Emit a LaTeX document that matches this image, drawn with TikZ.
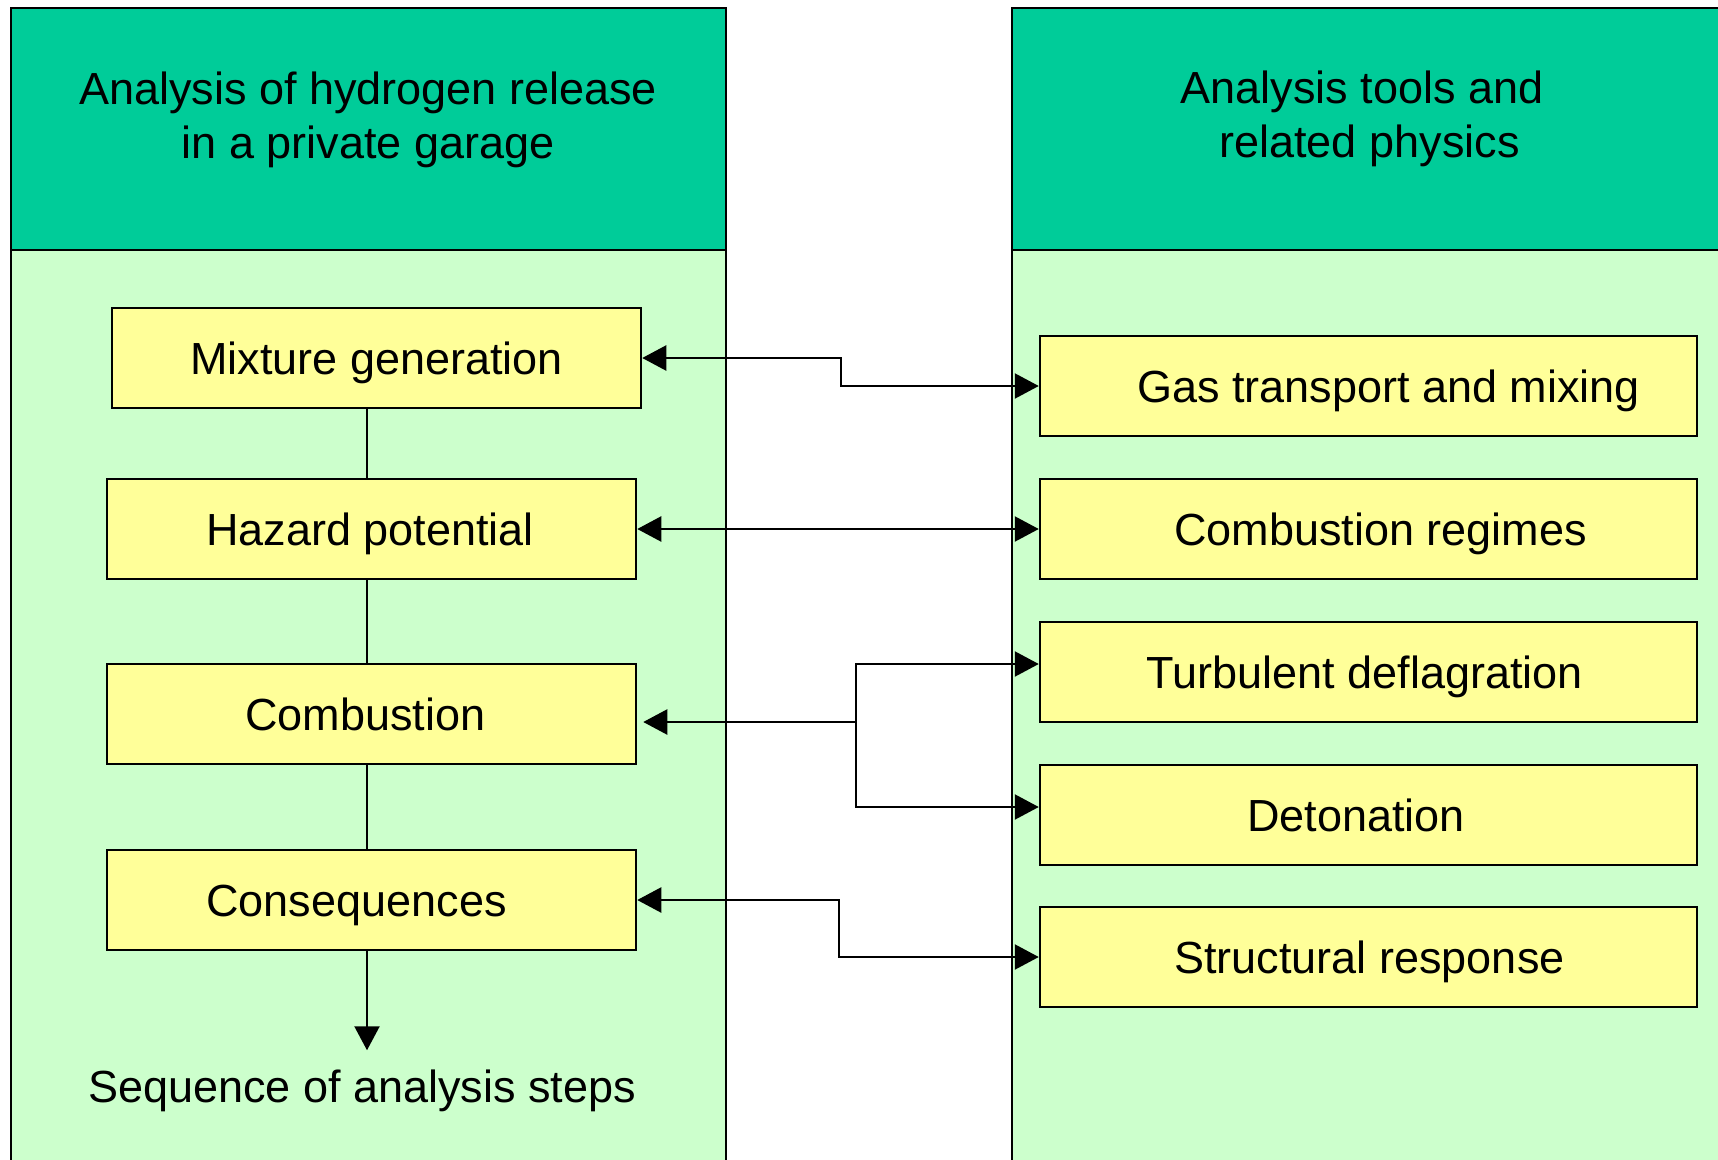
\documentclass[tikz,border=0pt]{standalone}
\usepackage{fontspec}
\setmainfont{Liberation Sans}
\usetikzlibrary{arrows.meta}
\definecolor{hdr}{RGB}{0,204,153}
\definecolor{bodyg}{RGB}{204,255,204}
\definecolor{boxy}{RGB}{255,255,153}
\begin{document}
\begin{tikzpicture}[x=1pt,y=-1pt,
  font=\fontsize{45}{54}\selectfont,
  stepbox/.style={draw=black,line width=2.5pt,fill=boxy,minimum width=529pt,minimum height=100pt,inner sep=0pt,text height=32pt,text depth=0pt},
  toolbox/.style={stepbox,minimum width=657pt},
  conn/.style={line width=2.3pt,{Triangle[length=24pt,width=25pt]}-{Triangle[length=24pt,width=25pt]}},
  arr/.style={line width=2.3pt,-{Triangle[length=24pt,width=25pt]}},
  panel/.style={draw=black,line width=2.5pt}]
\useasboundingbox (0,0) rectangle (1718,1159);
\begin{scope}
\clip (0,0) rectangle (1718,1159);
% left panel
\fill[bodyg] (11,250) rectangle (726,1200);
\fill[hdr] (11,8) rectangle (726,250);
\draw[panel] (11,1200) -- (11,8) -- (726,8) -- (726,1200);
\draw[panel] (11,250) -- (726,250);
% right panel
\fill[bodyg] (1012,250) rectangle (1760,1200);
\fill[hdr] (1012,8) rectangle (1760,250);
\draw[panel] (1012,1200) -- (1012,8) -- (1760,8);
\draw[panel] (1012,250) -- (1760,250);
\end{scope}
\node[align=center] (lhead) at (368,120) {Analysis of hydrogen release\\in a private garage};
\node[align=center] (rhead) at (1362,119) {Analysis tools and\\\hspace*{15pt}related physics};
% left steps
\node[stepbox] (mix) at (376.5,358) {Mixture generation};
\node[stepbox] (haz) at (371.5,529) {Hazard potential\hspace*{3pt}};
\node[stepbox] (comb) at (371.5,714) {Combustion\hspace*{12pt}};
\node[stepbox] (cons) at (371.5,900) {Consequences\hspace*{30pt}};
\node[text height=32pt,text depth=0pt,inner sep=0pt] (seq) at (362,1086) {Sequence of analysis steps};
\coordinate (spine) at (367,0);
\draw[line width=2.3pt] (mix.south -| spine) -- (haz.north -| spine);
\draw[line width=2.3pt] (haz.south -| spine) -- (comb.north -| spine);
\draw[line width=2.3pt] (comb.south -| spine) -- (cons.north -| spine);
\draw[arr] (cons.south -| spine) -- ++(0,99);
% right tools
\node[toolbox] (gas) at (1368.5,386) {\hspace*{40pt}Gas transport and mixing};
\node[toolbox] (reg) at (1368.5,529) {\hspace*{24pt}Combustion regimes};
\node[toolbox] (turb) at (1368.5,672) {Turbulent deflagration\hspace*{7pt}};
\node[toolbox] (det) at (1368.5,815) {Detonation\hspace*{25pt}};
\node[toolbox] (struct) at (1368.5,957) {\hspace*{2pt}Structural response};
% connectors
\draw[conn] (mix.east) -- ++(199,0) |- (gas.west);
\draw[conn] (haz.east) -- (reg.west);
\coordinate (j) at (856,722);
\draw[arr] (j) -- ([xshift=6pt]comb.east |- j);
\draw[arr] (j) |- ([yshift=8pt]turb.west);
\draw[arr] (j) |- ([yshift=8pt]det.west);
\draw[conn] (cons.east) -- ++(202,0) |- (struct.west);
\end{tikzpicture}
\end{document}
